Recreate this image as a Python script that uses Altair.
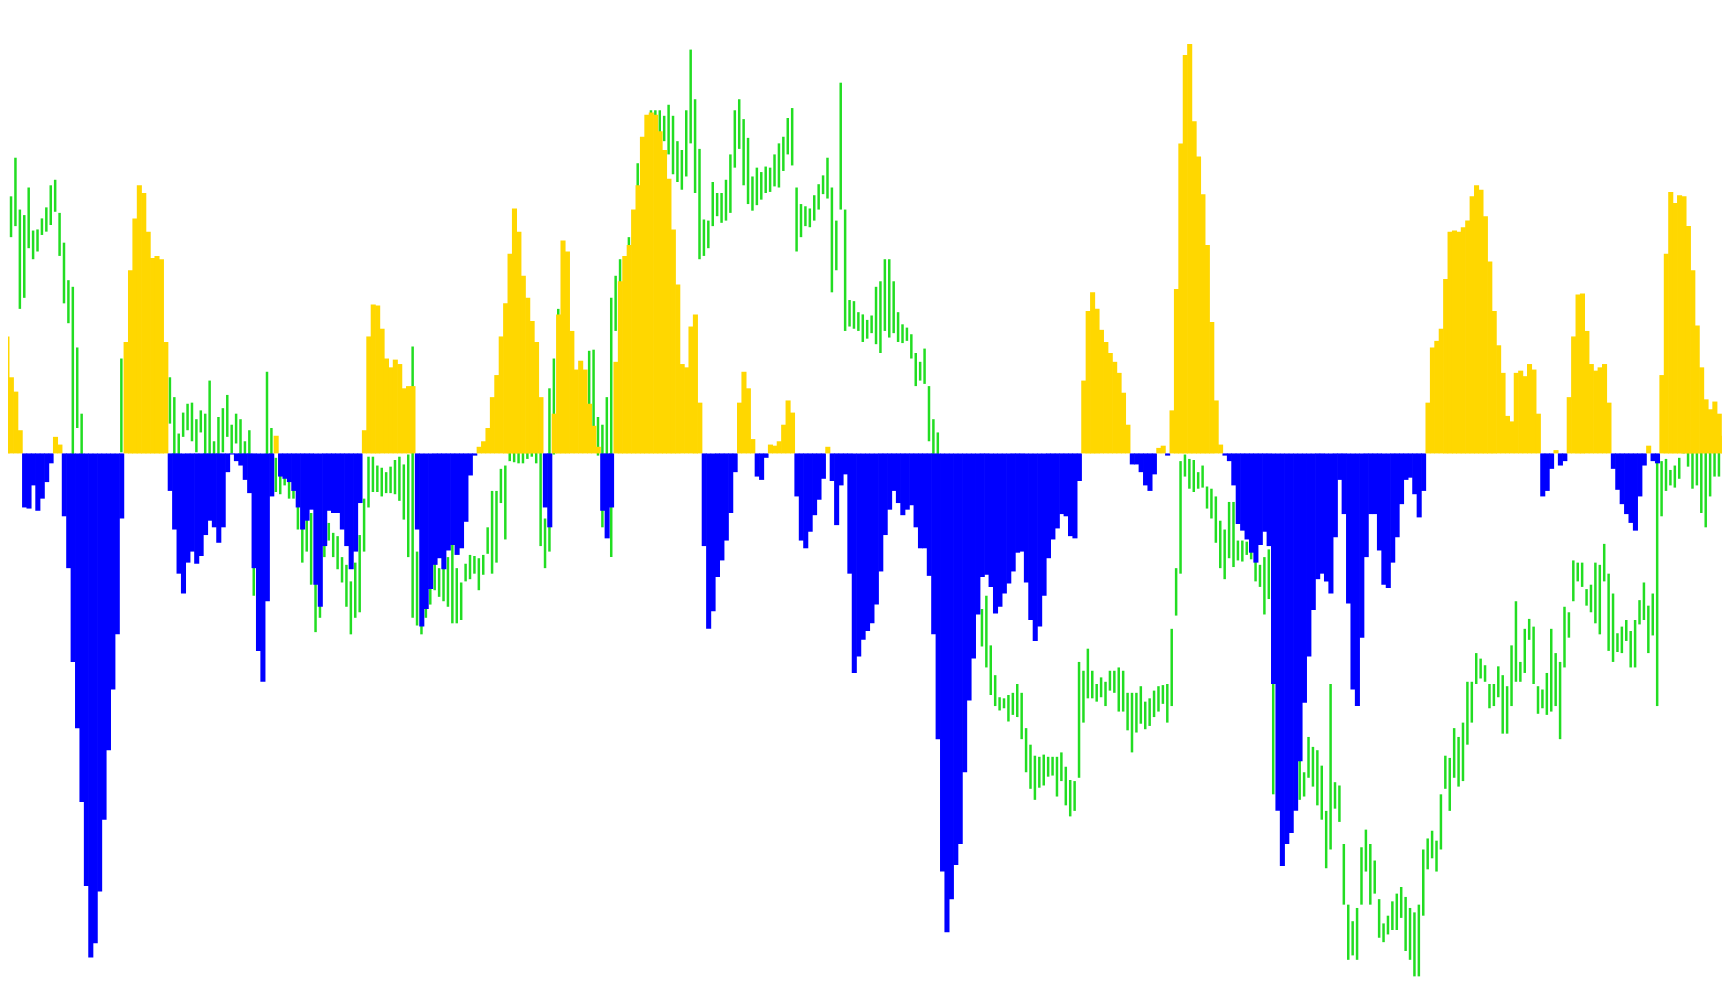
import altair as alt
import pandas as pd

# Oscillator histogram value per bar (positive = gold, negative = blue)
osc = [
    144, 106, 69, 56, 21, -49, -50, -29, -52, -41, -26, -9, 15, 8, -57, -104, -189, -249, -316, -392,
    -457, -444, -397, -332, -269, -214, -164, -59, 101, 166, 213, 243, 236, 201, 177, 179, 176, 101, -34, -69,
    -109, -127, -99, -89, -100, -93, -74, -61, -67, -81, -67, -17, -1, -7, -11, -24, -36, -104, -179, -207,
    -134, -39, 16, -21, -23, -26, -34, -49, -69, -61, -51, -119, -139, -84, -52, -54, -54, -69, -84, -105,
    -89, -45, 21, 106, 135, 134, 113, 86, 78, 85, 81, 59, 61, 61, -69, -157, -141, -123, -101, -95,
    -105, -88, -83, -92, -86, -62, -20, -2, 6, 11, 23, 51, 71, 106, 136, 181, 222, 201, 161, 141,
    120, 101, 51, -49, -67, 36, 126, 193, 183, 111, 76, 84, 76, 45, 25, 6, -52, -77, -49, 83,
    156, 179, 189, 221, 243, 287, 307, 309, 307, 292, 275, 249, 203, 153, 81, 78, 115, 126, 46, -84,
    -159, -143, -112, -97, -79, -54, -17, 46, 74, 59, 13, -21, -24, -4, 8, 7, 11, 26, 48, 37,
    -39, -79, -86, -71, -56, -42, -23, 6, -25, -65, -29, -19, -109, -199, -184, -169, -161, -154, -137, -107,
    -74, -51, -34, -45, -56, -51, -47, -67, -86, -86, -111, -164, -259, -379, -434, -404, -373, -354, -289, -224,
    -186, -146, -112, -110, -121, -145, -139, -127, -118, -107, -90, -89, -117, -151, -170, -157, -129, -95, -78, -68,
    -55, -57, -75, -77, -25, 66, 129, 146, 131, 112, 101, 91, 83, 73, 55, 26, -10, -10, -17, -29,
    -34, -19, 5, 7, -2, 39, 149, 281, 361, 371, 301, 269, 235, 189, 119, 48, 8, -2, -7, -29,
    -64, -70, -78, -90, -99, -83, -71, -84, -209, -324, -374, -354, -344, -324, -279, -226, -184, -142, -114, -109,
    -116, -127, -76, -24, -55, -136, -214, -229, -167, -94, -55, -55, -88, -119, -122, -99, -76, -46, -24, -22,
    -37, -58, -34, 46, 96, 102, 113, 158, 201, 202, 201, 205, 211, 233, 243, 239, 215, 174, 129, 98,
    73, 34, 29, 73, 75, 70, 81, 76, 36, -39, -34, -14, 3, -11, -7, 51, 106, 144, 145, 111,
    81, 75, 78, 81, 46, -14, -33, -46, -55, -63, -70, -39, -11, 7, -7, -9, 71, 181, 237, 227,
    234, 233, 206, 166, 116, 78, 49, 40, 47, 36, 16, 9,
]

# Price bar highs and lows (green range bars)
high = [
    855, 832, 822, 857, 810, 805, 830, 791, 792, 802, 812, 832, 837, 807, 780, 746, 740, 685, 625, 570,
    560, 555, 560, 570, 575, 580, 580, 675, 670, 660, 660, 655, 650, 650, 655, 660, 660, 660, 658, 640,
    607, 626, 634, 635, 620, 628, 625, 655, 600, 622, 630, 642, 615, 625, 620, 600, 610, 540, 530, 580,
    663, 612, 585, 575, 572, 567, 563, 550, 525, 545, 535, 497, 525, 525, 526, 517, 514, 495, 488, 473,
    490, 515, 548, 586, 586, 578, 576, 572, 577, 583, 586, 579, 588, 686, 500, 470, 485, 480, 494, 485,
    490, 495, 508, 485, 472, 489, 497, 496, 494, 497, 522, 555, 555, 575, 578, 630, 640, 640, 630, 620,
    620, 620, 605, 530, 648, 675, 720, 750, 740, 680, 655, 655, 650, 682, 683, 622, 615, 640, 730, 750,
    765, 760, 785, 805, 852, 870, 890, 900, 900, 900, 895, 905, 895, 872, 864, 900, 955, 910, 865, 801,
    800, 835, 825, 825, 837, 860, 900, 910, 892, 875, 840, 848, 844, 849, 848, 860, 870, 876, 893, 902,
    830, 815, 813, 811, 823, 833, 841, 857, 830, 800, 925, 810, 728, 727, 717, 715, 710, 714, 740, 745,
    765, 765, 745, 717, 706, 703, 697, 680, 672, 684, 650, 620, 608, 570, 560, 550, 530, 520, 510, 500,
    520, 530, 448, 460, 415, 388, 368, 367, 370, 372, 380, 372, 340, 325, 315, 314, 316, 314, 314, 314,
    318, 305, 293, 292, 400, 392, 412, 392, 380, 386, 382, 392, 392, 395, 392, 372, 372, 372, 378, 364,
    367, 374, 378, 379, 380, 430, 485, 582, 588, 584, 583, 572, 578, 559, 557, 550, 528, 520, 545, 545,
    510, 510, 509, 511, 494, 488, 495, 502, 380, 360, 300, 300, 300, 300, 313, 300, 332, 323, 320, 306,
    265, 380, 291, 288, 235, 180, 165, 177, 232, 248, 235, 220, 185, 163, 170, 183, 190, 196, 187, 177,
    173, 180, 230, 240, 247, 238, 280, 315, 313, 340, 332, 345, 382, 382, 408, 403, 397, 380, 380, 396,
    388, 378, 415, 455, 400, 430, 439, 432, 378, 375, 390, 430, 408, 400, 450, 445, 492, 490, 490, 466,
    470, 490, 488, 507, 480, 462, 426, 432, 438, 428, 438, 456, 472, 451, 462, 588, 582, 584, 574, 578,
    585, 605, 600, 600, 600, 600, 595, 595, 590, 590, 582, 602,
]

low = [
    820, 806, 785, 795, 720, 730, 775, 765, 772, 787, 790, 796, 808, 768, 725, 707, 570, 612, 570, 530,
    520, 510, 515, 520, 530, 540, 545, 590, 595, 600, 600, 600, 595, 600, 600, 605, 610, 610, 616, 580,
    560, 604, 610, 600, 590, 608, 570, 580, 550, 580, 590, 604, 589, 598, 582, 575, 570, 460, 440, 440,
    530, 580, 554, 552, 560, 548, 548, 520, 490, 500, 470, 427, 440, 495, 510, 495, 484, 472, 450, 425,
    440, 445, 500, 540, 554, 554, 550, 553, 553, 552, 546, 529, 495, 440, 433, 425, 440, 452, 465, 459,
    455, 450, 435, 435, 438, 473, 475, 480, 465, 479, 498, 480, 490, 544, 511, 582, 581, 580, 580, 584,
    586, 580, 505, 485, 500, 588, 670, 670, 660, 620, 600, 600, 595, 620, 595, 587, 522, 580, 495, 700,
    710, 700, 720, 740, 780, 800, 820, 840, 875, 865, 872, 860, 842, 835, 828, 840, 870, 825, 765, 768,
    775, 795, 804, 798, 800, 807, 848, 865, 832, 815, 809, 814, 819, 825, 826, 831, 830, 845, 860, 850,
    772, 785, 795, 794, 800, 810, 824, 820, 735, 755, 810, 700, 704, 702, 700, 690, 693, 698, 688, 680,
    700, 694, 698, 690, 689, 691, 675, 650, 655, 652, 600, 570, 550, 500, 480, 460, 440, 420, 410, 400,
    420, 450, 414, 395, 370, 360, 356, 358, 346, 352, 350, 330, 300, 285, 275, 286, 288, 296, 297, 278,
    292, 270, 260, 265, 295, 345, 367, 367, 364, 368, 360, 374, 372, 355, 355, 338, 318, 336, 344, 339,
    342, 350, 355, 362, 345, 360, 442, 480, 568, 557, 554, 557, 558, 539, 530, 508, 485, 475, 494, 486,
    492, 491, 497, 493, 473, 468, 443, 457, 280, 280, 230, 250, 255, 270, 275, 278, 295, 287, 270, 257,
    213, 230, 267, 255, 180, 130, 134, 130, 180, 210, 180, 190, 150, 146, 153, 157, 157, 168, 138, 130,
    115, 115, 170, 212, 222, 210, 230, 285, 265, 295, 287, 292, 325, 345, 380, 385, 382, 358, 360, 368,
    335, 335, 360, 382, 382, 390, 420, 380, 353, 358, 352, 355, 360, 330, 395, 422, 455, 473, 468, 451,
    445, 435, 425, 473, 410, 400, 409, 408, 419, 395, 395, 434, 438, 408, 424, 360, 532, 555, 560, 558,
    566, 589, 577, 557, 560, 535, 522, 550, 568, 568, 566, 565,
]

n = len(osc)
df = pd.DataFrame({
    "bar": list(range(n)),
    "osc": osc,
    "high": high,
    "low": low,
})
# slight overlap between neighbouring histogram bars so no hairline seams show
df["bar_end"] = df["bar"] + 1.15
df["mid"] = df["bar"] + 0.5
df["zero"] = 0
df["side"] = ["up" if v >= 0 else "down" for v in osc]

W, H = 1714, 989
x_scale = alt.Scale(domain=[1.8128, 390.19], nice=False, zero=False)
osc_scale = alt.Scale(domain=[-492.7, 403.7], nice=False, zero=False)
price_scale = alt.Scale(domain=[96.3, 992.7], nice=False, zero=False)
side_scale = alt.Scale(domain=["up", "down"], range=["#FFD700", "#0000FF"])

price = alt.Chart(df).mark_rule(color="#22dd22", strokeWidth=2.5, clip=True).encode(
    x=alt.X("mid:Q", scale=x_scale, axis=None),
    y=alt.Y("high:Q", scale=price_scale, axis=None),
    y2="low:Q",
)

hist = alt.Chart(df).mark_rect(clip=True).encode(
    x=alt.X("bar:Q", scale=x_scale, axis=None),
    x2="bar_end:Q",
    y=alt.Y("zero:Q", scale=osc_scale, axis=None),
    y2="osc:Q",
    color=alt.Color("side:N", scale=side_scale, legend=None),
)

chart = (
    alt.layer(price, hist)
    .resolve_scale(y="independent")
    .properties(width=W, height=H, padding=0, autosize=alt.AutoSizeParams(type="none"),
                background="white")
    .configure_view(strokeWidth=0)
)

chart.save("out.html", embed_options={"renderer": "svg", "actions": False})
